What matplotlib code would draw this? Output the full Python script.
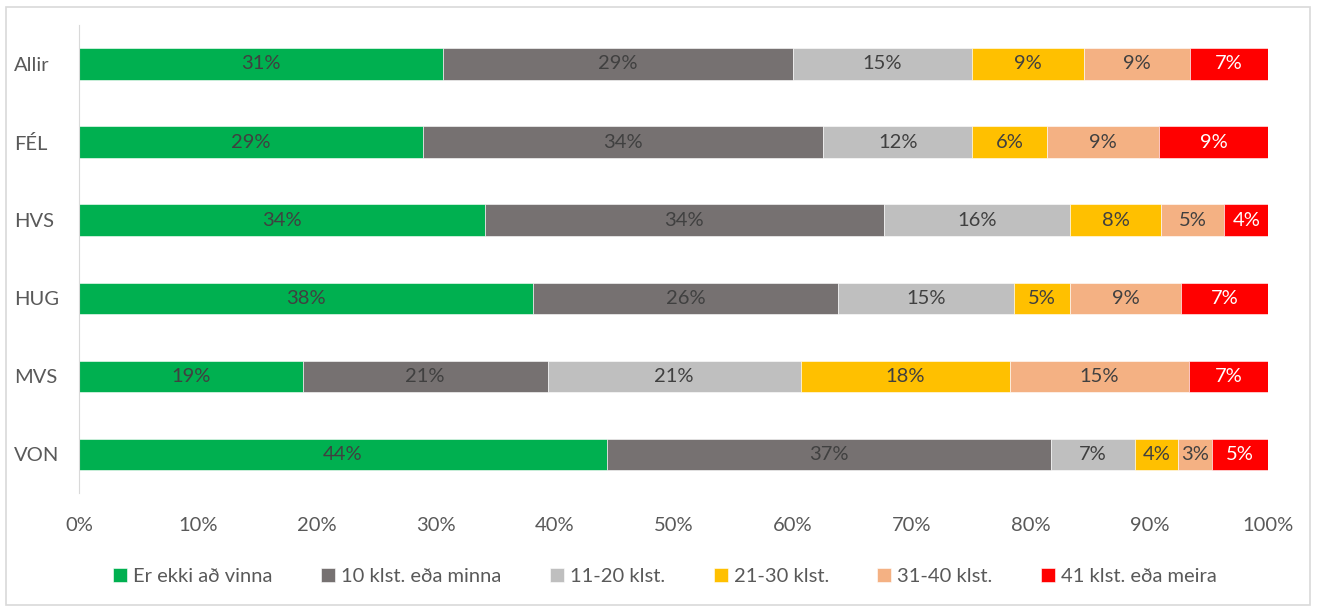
import numpy as np
import matplotlib.pyplot as plt
from matplotlib.patches import Rectangle

plt.rcParams['font.family'] = ['Lato', 'DejaVu Sans']

# data (share of each group, %)
groups = ['Allir', 'FÉL', 'HVS', 'HUG', 'MVS', 'VON']
series = ['Er ekki að vinna', '10 klst. eða minna', '11-20 klst.',
          '21-30 klst.', '31-40 klst.', '41 klst. eða meira']
not_working = [30.6, 28.9, 34.1, 38.2, 18.8, 44.4]
h_10 = [29.4, 33.7, 33.6, 25.6, 20.6, 37.3]
h_11_20 = [15.1, 12.5, 15.6, 14.8, 21.3, 7.1]
h_21_30 = [9.4, 6.3, 7.7, 4.7, 17.6, 3.6]
h_31_40 = [8.9, 9.4, 5.3, 9.4, 15.0, 2.9]
h_41 = [6.6, 9.2, 3.7, 7.3, 6.7, 4.7]

colors = ['#00B050', '#767171', '#BFBFBF', '#FFC000', '#F4B183', '#FF0000']
txt_colors = ['#404040', '#404040', '#404040', '#404040', '#404040', 'white']

values = [not_working, h_10, h_11_20, h_21_30, h_31_40, h_41]

fig = plt.figure(figsize=(13.17, 6.09), dpi=100)
ax = fig.add_axes([0.060, 0.190, 0.903, 0.769])

y = np.arange(len(groups))
left = np.zeros(len(groups))
for vals, name, col, tc in zip(values, series, colors, txt_colors):
    vals = np.array(vals)
    ax.barh(y, vals, left=left, height=0.4, color=col, label=name,
            edgecolor='white', linewidth=0.4)
    for yi, l, v in zip(y, left, vals):
        ax.text(l + v / 2, yi, f'{round(v)}%', ha='center', va='center',
                fontsize=14.5, color=tc)
    left += vals

ax.set_xlim(0, 100)
ax.set_ylim(len(groups) - 0.5, -0.5)
ax.set_yticks(y)
ax.set_yticklabels(groups, ha='left')
ax.set_xticks(np.arange(0, 101, 10))
ax.set_xticklabels([f'{t}%' for t in range(0, 101, 10)])
ax.tick_params(axis='both', length=0, labelsize=14.5, colors='#595959')
ax.tick_params(axis='y', pad=47)
ax.tick_params(axis='x', pad=17)
for s in ['top', 'right', 'bottom']:
    ax.spines[s].set_visible(False)
ax.spines['left'].set_color('#D9D9D9')

leg = fig.legend(loc='center', bbox_to_anchor=(0.505, 0.054), ncol=6,
                 frameon=False, fontsize=14.5, handlelength=0.7,
                 handleheight=0.7, handletextpad=0.3, columnspacing=2.4)
for t in leg.get_texts():
    t.set_color('#595959')

fig.patches.append(Rectangle((6 / 1317, 4 / 609), 1304 / 1317, 598 / 609,
                             transform=fig.transFigure, fill=False,
                             edgecolor='#D9D9D9', linewidth=1.2))

fig.savefig('out.png', dpi=100)
